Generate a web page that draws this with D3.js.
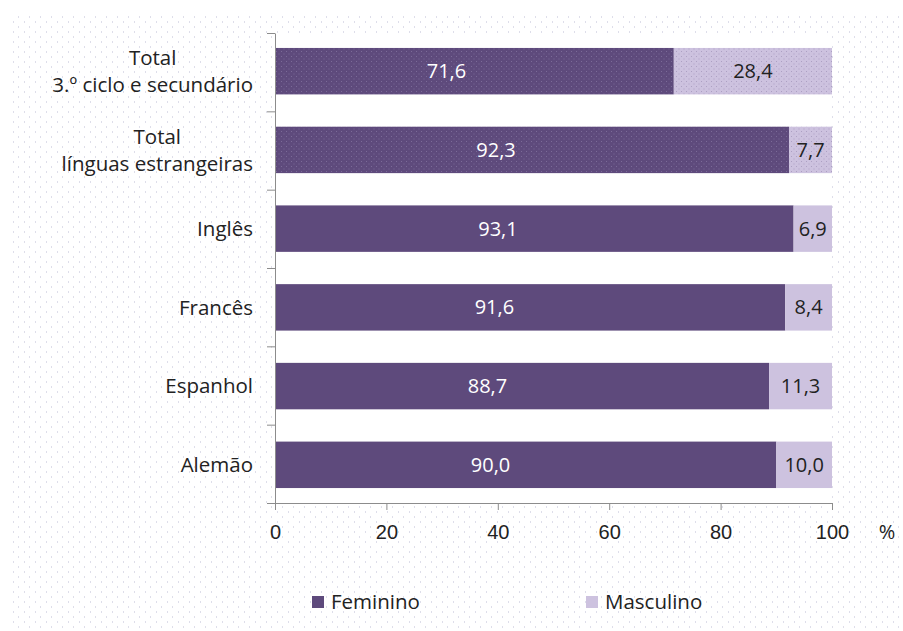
<!DOCTYPE html>
<html>
<head>
<meta charset="utf-8">
<script src="https://cdn.jsdelivr.net/npm/d3@7"></script>
<style>
  html, body { margin: 0; padding: 0; background: #fff; }
  svg { display: block; font-family: "Open Sans", "Noto Sans", sans-serif; }
</style>
</head>
<body>
<svg id="chart" width="903" height="631"></svg>
<script>
// Category labels (multi-line labels split on "\n")
const categories = [
  "Total\n3.º ciclo e secundário",
  "Total\nlínguas estrangeiras",
  "Inglês",
  "Francês",
  "Espanhol",
  "Alemão"
];
const feminino  = [71.6, 92.3, 93.1, 91.6, 88.7, 90.0];
const masculino = [28.4,  7.7,  6.9,  8.4, 11.3, 10.0];
const xTicks = [0, 20, 40, 60, 80, 100];
const seriesNames = ["Feminino", "Masculino"];

const colors = { Feminino: "#5e4a7c", Masculino: "#cdc2df" };
const totalsRows = new Set([categories[0], categories[1]]); // aggregate rows get a dotted texture
const femLabelFrac = 0.43; // Feminino value labels sit left of the segment middle

const svg = d3.select("#chart");
const W = 903, H = 631;
const plot = { left: 275, right: 832, top: 33, bottom: 503 };
const FS = 20;

// Dotted page background
const defs = svg.append("defs");
const bgPat = defs.append("pattern").attr("id", "bgdots")
  .attr("patternUnits", "userSpaceOnUse").attr("width", 11).attr("height", 10);
bgPat.append("rect").attr("x", 2).attr("y", 1).attr("width", 1).attr("height", 2).attr("fill", "#dedeea");
bgPat.append("rect").attr("x", 7).attr("y", 6).attr("width", 1).attr("height", 2).attr("fill", "#dedeea");

function texture(id, base, dot) {
  const p = defs.append("pattern").attr("id", id)
    .attr("patternUnits", "userSpaceOnUse").attr("width", 5).attr("height", 5);
  p.append("rect").attr("width", 5).attr("height", 5).attr("fill", base);
  p.append("rect").attr("x", 1).attr("y", 1).attr("width", 1).attr("height", 1).attr("fill", dot);
  p.append("rect").attr("x", 3.5).attr("y", 3.5).attr("width", 1).attr("height", 1).attr("fill", dot);
}
texture("texF", colors.Feminino, "#7b6b98");
texture("texM", colors.Masculino, "#ada0c3");

svg.append("rect").attr("x", 8).attr("y", 13).attr("width", W - 8).attr("height", H - 13)
  .attr("fill", "url(#bgdots)");
svg.append("rect").attr("x", plot.left).attr("y", plot.top)
  .attr("width", plot.right - plot.left).attr("height", plot.bottom - plot.top)
  .attr("fill", "#fff");

const x = d3.scaleLinear().domain([0, 100]).range([plot.left, plot.right]);
const y = d3.scaleBand().domain(categories).range([plot.top, plot.bottom])
  .paddingInner(0.41).paddingOuter(0.19);

const rows = categories.map((c, i) => ({ cat: c, f: feminino[i], m: masculino[i] }));

const g = svg.append("g");
// Feminino segments
g.selectAll("rect.fem").data(rows).join("rect").attr("class", "fem")
  .attr("x", x(0)).attr("y", d => y(d.cat))
  .attr("width", d => x(d.f) - x(0)).attr("height", y.bandwidth())
  .attr("fill", d => totalsRows.has(d.cat) ? "url(#texF)" : colors.Feminino);
// Masculino segments
g.selectAll("rect.mas").data(rows).join("rect").attr("class", "mas")
  .attr("x", d => x(d.f)).attr("y", d => y(d.cat))
  .attr("width", d => x(d.f + d.m) - x(d.f)).attr("height", y.bandwidth())
  .attr("fill", d => totalsRows.has(d.cat) ? "url(#texM)" : colors.Masculino);

const fmt = v => d3.format(".1f")(v).replace(".", ",");
g.selectAll("text.fl").data(rows).join("text").attr("class", "fl")
  .attr("x", d => x(d.f * femLabelFrac)).attr("y", d => y(d.cat) + y.bandwidth() / 2)
  .attr("dy", "0.35em").attr("text-anchor", "middle")
  .attr("font-size", FS).attr("fill", "#fff").text(d => fmt(d.f));
g.selectAll("text.ml").data(rows).join("text").attr("class", "ml")
  .attr("x", d => (x(d.f) + x(d.f + d.m)) / 2).attr("y", d => y(d.cat) + y.bandwidth() / 2)
  .attr("dy", "0.35em").attr("text-anchor", "middle")
  .attr("font-size", FS).attr("fill", "#222").text(d => fmt(d.m));

// X axis
const xAxis = svg.append("g").attr("transform", `translate(0,${plot.bottom})`)
  .call(d3.axisBottom(x).tickValues(xTicks).tickSize(7).tickSizeOuter(0).tickPadding(15));
xAxis.selectAll("path, line").attr("stroke", "#8c8c8c");
xAxis.selectAll("text").attr("font-size", FS).attr("fill", "#222").attr("font-family", null);
svg.append("text").attr("x", 887).attr("y", plot.bottom + 22).attr("dy", "0.71em")
  .attr("text-anchor", "middle").attr("font-size", FS).attr("fill", "#222").text("%");

// Y axis: line with ticks at band boundaries
const yEdge = d3.scaleLinear().domain([0, categories.length]).range([plot.top, plot.bottom]);
const yAxis = svg.append("g").attr("transform", `translate(${plot.left},0)`)
  .call(d3.axisLeft(yEdge).ticks(categories.length).tickSize(8).tickSizeOuter(0).tickFormat(""));
yAxis.selectAll("path, line").attr("stroke", "#8c8c8c");

// Category labels
const lineH = 27;
const labels = svg.append("g");
categories.forEach(c => {
  const lines = c.split("\n");
  const cy = y(c) + y.bandwidth() / 2;
  const t = labels.append("text").attr("font-size", 20.5).attr("fill", "#222")
    .attr("text-anchor", "middle");
  lines.forEach((ln, i) => {
    t.append("tspan").attr("x", 0)
      .attr("y", cy + (i - (lines.length - 1) / 2) * lineH).attr("dy", "0.35em").text(ln);
  });
  const w = t.node().getBBox().width;
  t.attr("transform", `translate(${253 - w / 2},0)`);
});

// Legend
const legend = svg.append("g");
const legendX = [312, 586];
seriesNames.forEach((s, i) => {
  legend.append("rect").attr("x", legendX[i]).attr("y", 596).attr("width", 12).attr("height", 12)
    .attr("fill", colors[s]);
  legend.append("text").attr("x", legendX[i] + 19).attr("y", 602).attr("dy", "0.35em")
    .attr("font-size", 20.5).attr("fill", "#222").text(s);
});
</script>
</body>
</html>
